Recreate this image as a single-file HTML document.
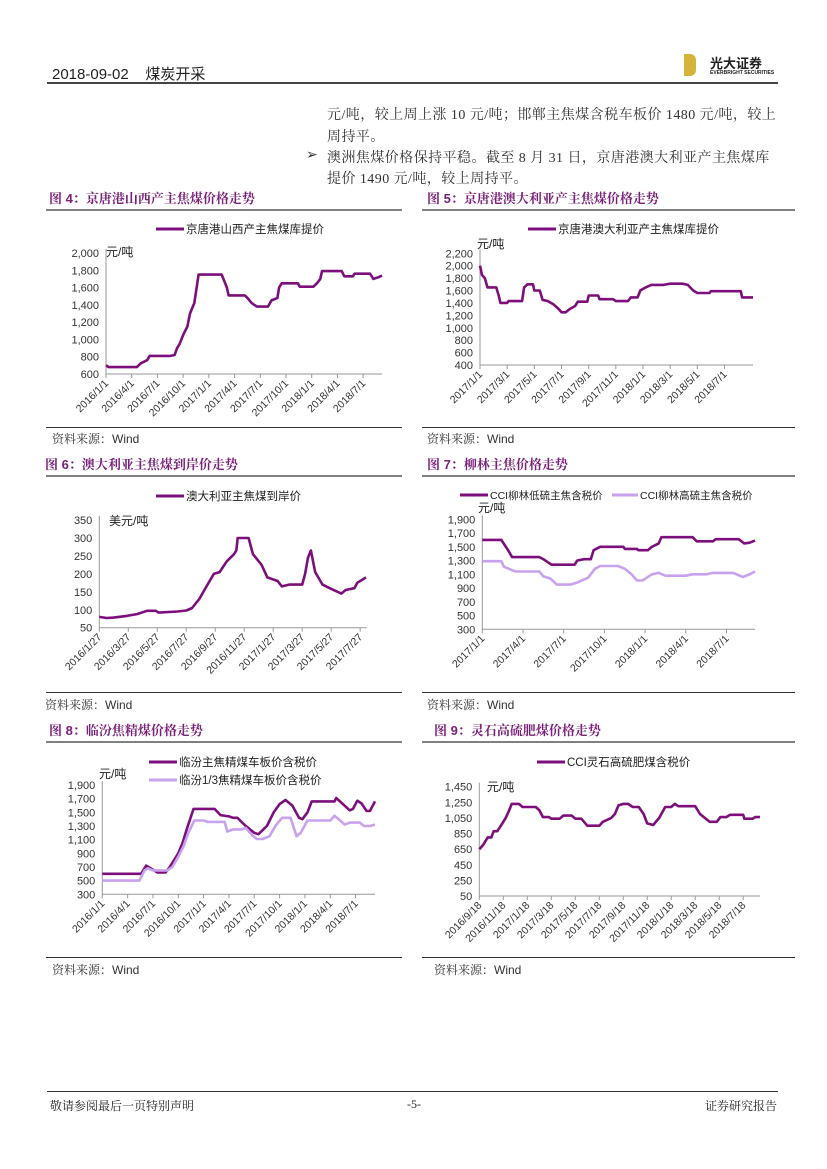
<!DOCTYPE html>
<html><head><meta charset="utf-8">
<style>
body{margin:0;background:#fff;}
#page{position:relative;width:827px;height:1169px;overflow:hidden;font-family:"Liberation Sans","Noto Sans CJK SC",sans-serif;color:#222;}
.abs{position:absolute;white-space:nowrap;}
.body{font-family:"Liberation Serif","Noto Serif CJK SC",serif;font-size:14px;color:#333;letter-spacing:0.45px;}
.ftitle{font-size:13px;font-weight:bold;color:#7a1f7a;font-family:"Liberation Sans","Noto Serif CJK SC",serif;}
.src{font-size:12px;color:#333;font-family:"Liberation Sans","Noto Serif CJK SC",sans-serif;}
.hr{position:absolute;height:1px;background:#333;}
.gr{position:absolute;height:2px;background:#808080;}
</style></head>
<body>
<div id="page">
<div class="abs" style="left:52px;top:63px;font-size:15px;color:#222;">2018-09-02&nbsp;&nbsp;&nbsp;&nbsp;煤炭开采</div>
<div class="abs" style="left:684px;top:54px;">
  <div style="position:absolute;left:0;top:0;width:12px;height:22px;background:#d6b43a;border-radius:0 6px 6px 0;"></div>
  <div class="abs" style="left:26px;top:-1px;font-size:13px;font-weight:bold;color:#222;">光大证券</div>
  <div class="abs" style="left:26px;top:16px;font-size:5px;font-weight:bold;color:#222;">EVERBRIGHT SECURITIES</div>
</div>
<div class="hr" style="left:47px;top:82px;width:731px;height:2px;background:#444;"></div>

<div class="abs body" style="left:327px;top:104px;">元/吨，较上周上涨 10 元/吨；邯郸主焦煤含税车板价 1480 元/吨，较上</div>
<div class="abs body" style="left:327px;top:126px;">周持平。</div>
<div class="abs body" style="left:306px;top:147px;">➢</div>
<div class="abs body" style="left:327px;top:147px;">澳洲焦煤价格保持平稳。截至 8 月 31 日，京唐港澳大利亚产主焦煤库</div>
<div class="abs body" style="left:327px;top:168px;">提价 1490 元/吨，较上周持平。</div>

<div class="abs ftitle" style="left:49px;top:188px;">图 4：京唐港山西产主焦煤价格走势</div>
<div class="abs ftitle" style="left:427px;top:188px;">图 5：京唐港澳大利亚产主焦煤价格走势</div>
<div class="gr" style="left:46px;top:209px;width:356px;"></div>
<div class="gr" style="left:422px;top:209px;width:373px;"></div>
<div class="hr" style="left:46px;top:427px;width:356px;"></div>
<div class="hr" style="left:422px;top:427px;width:373px;"></div>
<div class="abs src" style="left:52px;top:430px;">资料来源：Wind</div>
<div class="abs src" style="left:427px;top:430px;">资料来源：Wind</div>

<div class="abs ftitle" style="left:45px;top:454px;">图 6：澳大利亚主焦煤到岸价走势</div>
<div class="abs ftitle" style="left:427px;top:454px;">图 7：柳林主焦价格走势</div>
<div class="gr" style="left:46px;top:475px;width:356px;"></div>
<div class="gr" style="left:422px;top:475px;width:373px;"></div>
<div class="hr" style="left:46px;top:692px;width:356px;"></div>
<div class="hr" style="left:422px;top:692px;width:373px;"></div>
<div class="abs src" style="left:45px;top:696px;">资料来源：Wind</div>
<div class="abs src" style="left:427px;top:696px;">资料来源：Wind</div>

<div class="abs ftitle" style="left:49px;top:720px;">图 8：临汾焦精煤价格走势</div>
<div class="abs ftitle" style="left:434px;top:720px;">图 9：灵石高硫肥煤价格走势</div>
<div class="gr" style="left:46px;top:741px;width:356px;"></div>
<div class="gr" style="left:422px;top:741px;width:373px;"></div>
<div class="hr" style="left:46px;top:957px;width:356px;"></div>
<div class="hr" style="left:422px;top:957px;width:373px;"></div>
<div class="abs src" style="left:52px;top:961px;">资料来源：Wind</div>
<div class="abs src" style="left:434px;top:961px;">资料来源：Wind</div>

<div class="hr" style="left:47px;top:1091px;width:731px;"></div>
<div class="abs" style="left:50px;top:1097px;font-size:12px;font-family:'Liberation Serif','Noto Serif CJK SC',serif;">敬请参阅最后一页特别声明</div>
<div class="abs" style="left:407px;top:1097px;font-size:12px;font-family:'Liberation Serif',serif;">-5-</div>
<div class="abs" style="left:705px;top:1097px;font-size:12px;font-family:'Liberation Serif','Noto Serif CJK SC',serif;">证券研究报告</div>

<svg id="charts" width="827" height="1169" style="position:absolute;left:0;top:0;"></svg>
</div>
<script>
// ---- Fig 4 data (months since 2016/1/1) ----
const f4Labels = ["2016/1/1","2016/4/1","2016/7/1","2016/10/1","2017/1/1","2017/4/1","2017/7/1","2017/10/1","2018/1/1","2018/4/1","2018/7/1"];
const f4Ticks = [0,3,6,9,12,15,18,21,24,27,30];
const f4YTicks = [600,800,1000,1200,1400,1600,1800,2000];
const f4X = [0,0.3,3.6,4,4.8,5.1,7.5,8,8.3,8.6,9,9.5,9.8,10.3,10.6,10.8,13.5,14.1,14.3,16.2,16.5,17,17.6,18.9,19.3,20,20.2,20.5,22.4,22.6,24.2,24.6,25,25.2,27.5,27.8,28.8,29,30.8,31.2,31.8,32.2];
const f4Y = [700,680,680,720,760,810,810,820,900,950,1050,1150,1300,1420,1620,1750,1750,1600,1510,1510,1480,1420,1380,1380,1450,1480,1600,1650,1650,1610,1610,1650,1700,1790,1790,1730,1730,1760,1760,1700,1720,1740];
// ---- Fig 5 data (months since 2017/1/1) ----
const f5Labels = ["2017/1/1","2017/3/1","2017/5/1","2017/7/1","2017/9/1","2017/11/1","2018/1/1","2018/3/1","2018/5/1","2018/7/1"];
const f5Ticks = [0,2,4,6,8,10,12,14,16,18];
const f5YTicks = [400,600,800,1000,1200,1400,1600,1800,2000,2200];
const f5X = [0,0.15,0.35,0.55,1.2,1.4,1.5,2.0,2.1,3.1,3.25,3.5,3.9,4.0,4.4,4.6,5.0,5.4,5.8,6.0,6.3,6.6,7.0,7.2,7.9,8.0,8.7,8.8,9.8,10.0,10.9,11.1,11.6,11.8,12.2,12.6,13.5,14.0,14.9,15.3,15.7,16.0,16.9,17.0,19.2,19.3,20.1];
const f5Y = [2000,1850,1800,1650,1650,1500,1400,1400,1430,1430,1650,1700,1700,1600,1600,1450,1430,1380,1300,1250,1250,1300,1350,1420,1420,1520,1520,1460,1460,1430,1430,1490,1490,1600,1650,1690,1690,1710,1710,1690,1600,1560,1560,1590,1590,1490,1490];
// ---- Fig 6 data (months since 2016/1/27) ----
const f6Labels = ["2016/1/27","2016/3/27","2016/5/27","2016/7/27","2016/9/27","2016/11/27","2017/1/27","2017/3/27","2017/5/27","2017/7/27"];
const f6Ticks = [0,2,4,6,8,10,12,14,16,18];
const f6YTicks = [50,100,150,200,250,300,350];
const f6X = [0,0.5,1.0,1.9,2.6,3.3,3.9,4.1,5.4,6.0,6.4,6.9,7.4,7.9,8.3,8.8,9.3,9.45,9.55,10.3,10.6,11.2,11.6,12.3,12.6,13.1,14.0,14.2,14.4,14.6,14.9,15.4,15.9,16.7,17.0,17.6,17.8,18.4];
const f6Y = [80,77,78,83,88,97,97,92,95,98,105,130,165,200,205,235,255,265,300,300,255,225,190,180,165,170,170,200,245,265,205,170,160,145,155,160,175,190];
// ---- Fig 7 data (months since 2017/1/1) ----
const f7Labels = ["2017/1/1","2017/4/1","2017/7/1","2017/10/1","2018/1/1","2018/4/1","2018/7/1"];
const f7Ticks = [0,3,6,9,12,15,18];
const f7YTicks = [300,500,700,900,1100,1300,1500,1700,1900];
const f7aX = [0,1.4,1.6,1.9,2.2,4.2,4.5,4.8,5.1,6.8,7.0,7.5,8.0,8.2,8.7,10.4,10.5,11.4,11.5,12.2,12.5,13.0,13.2,15.5,15.8,17.0,17.2,18.9,19.3,19.7,20.1];
const f7aY = [1600,1600,1540,1450,1350,1350,1320,1280,1240,1240,1300,1320,1320,1450,1500,1500,1470,1470,1450,1450,1500,1550,1640,1640,1580,1580,1610,1610,1550,1560,1590];
const f7bX = [0,1.4,1.6,2.2,2.5,4.2,4.5,5.0,5.5,6.5,7.0,7.8,8.3,8.7,10.0,10.5,11.0,11.4,11.8,12.5,13.0,13.5,15.0,15.5,16.5,17.0,18.5,19.2,19.7,20.1];
const f7bY = [1290,1290,1210,1160,1140,1140,1070,1040,950,950,980,1050,1180,1220,1220,1180,1100,1010,1010,1100,1120,1080,1080,1100,1100,1120,1120,1060,1100,1140];
// ---- Fig 8 data (months since 2016/1/1) ----
const f8Labels = ["2016/1/1","2016/4/1","2016/7/1","2016/10/1","2017/1/1","2017/4/1","2017/7/1","2017/10/1","2018/1/1","2018/4/1","2018/7/1"];
const f8Ticks = [0,3,6,9,12,15,18,21,24,27,30];
const f8YTicks = [300,500,700,900,1100,1300,1500,1700,1900];
const f8aX = [0,4.6,5.2,6.0,6.5,7.5,8.0,8.5,9.0,9.5,10.0,10.4,10.8,13.3,14.0,15.0,15.5,16.0,17.0,18.0,18.5,19.5,20.3,21.0,21.7,22.5,23.3,23.7,24.3,24.8,27.5,27.7,28.5,29.3,29.7,30.2,30.7,31.3,31.7,32.3];
const f8aY = [600,600,720,660,620,620,700,800,900,1050,1250,1400,1550,1550,1460,1440,1420,1420,1300,1200,1180,1300,1500,1620,1680,1600,1420,1400,1500,1660,1660,1710,1620,1530,1550,1670,1630,1520,1520,1660];
const f8bX = [0,4.4,5.0,5.4,6.0,7.7,8.3,9.0,9.6,10.2,10.9,12.0,12.5,14.5,14.8,15.5,16.5,17.0,17.8,18.3,19.0,19.8,20.5,21.3,22.3,23.0,23.5,24.3,27.0,27.5,28.0,28.7,29.3,30.5,31.0,31.7,32.3];
const f8bY = [500,500,650,680,650,650,700,850,1000,1200,1380,1380,1360,1360,1220,1250,1250,1270,1160,1110,1110,1150,1300,1420,1420,1150,1200,1380,1380,1450,1400,1320,1350,1350,1300,1300,1320];
// ---- Fig 9 data (months since 2016/9/18) ----
const f9Labels = ["2016/9/18","2016/11/18","2017/1/18","2017/3/18","2017/5/18","2017/7/18","2017/9/18","2017/11/18","2018/1/18","2018/3/18","2018/5/18","2018/7/18"];
const f9Ticks = [0,2,4,6,8,10,12,14,16,18,20,22];
const f9YTicks = [50,250,450,650,850,1050,1250,1450];
const f9X = [0,0.3,0.7,1.0,1.2,1.5,1.8,2.2,2.5,2.7,3.3,3.6,4.7,5.0,5.3,5.8,6.0,6.7,7.0,7.7,8.0,8.5,9.0,10.0,10.3,11.0,11.3,11.6,12.0,12.4,12.8,13.3,13.7,14.0,14.5,15.0,15.5,16.0,16.3,16.6,18.0,18.4,18.8,19.2,19.8,20.1,20.6,20.9,22.0,22.1,22.8,23.0,23.4];
const f9Y = [650,700,800,800,880,880,950,1050,1150,1230,1230,1190,1190,1150,1060,1060,1040,1040,1080,1080,1040,1040,950,950,1000,1050,1100,1210,1230,1230,1190,1190,1100,980,960,1050,1190,1190,1230,1200,1200,1100,1050,1000,1000,1060,1060,1090,1090,1040,1040,1060,1060];

const NS = "http://www.w3.org/2000/svg";
const svg = document.getElementById('charts');
const DARK = "#7c0f7c", LIGHT = "#c9a2ef";
function mk(tag, attrs, parent){ const e=document.createElementNS(NS,tag); for(const k in attrs) e.setAttribute(k,attrs[k]); (parent||svg).appendChild(e); return e; }

function drawChart(id, c, ticks, labels, yTicks, series, legends){
  const g = mk('g',{});
  
  
  const xs = m => c.x0 + (m - 0) * (c.x1 - c.x0) / c.xMax;
  const ys = v => c.yb - (v - c.yMin) * (c.yb - c.yt) / (c.yMax - c.yMin);
  const ax = mk('path',{d:`M${c.x0},${c.yt-4} V${c.yb} H${c.x1}`,stroke:'#999','stroke-width':1,fill:'none'},g);
  
  
  yTicks.forEach(v=>{
    const t = mk('text',{x:c.x0-7,y:ys(v)+4,'text-anchor':'end','font-size':11,fill:'#333','font-family':'Liberation Sans, sans-serif'},g);
    t.textContent = v>=1000 ? v.toLocaleString('en-US') : String(v);
    
    
  });
  ticks.forEach((m,i)=>{
    const x = xs(m);
    const tk = mk('line',{x1:x,x2:x,y1:c.yb,y2:c.yb+4,stroke:'#999'},g);
    
    
    const t = mk('text',{x:x+3,y:c.yb+10,'text-anchor':'end','font-size':10.5,fill:'#333','font-family':'Liberation Sans, sans-serif',transform:`rotate(-45 ${x+3} ${c.yb+10})`},g);
    t.textContent = labels[i];
    
    
  });
  const u = mk('text',{x:c.ux,y:c.uy,'font-size':12,fill:'#222','font-family':'Liberation Sans, Noto Sans CJK SC, sans-serif'},g);
  u.textContent = c.unit;
  
  
  series.forEach((s,si)=>{
    const d = s.x.map((m,i)=>(i?'L':'M')+xs(m).toFixed(1)+','+ys(s.y[i]).toFixed(1)).join(' ');
    const p = mk('path',{d:d,stroke:s.color,'stroke-width':2.6,fill:'none','stroke-linejoin':'round'},g);
    
    
  });
  legends.forEach((L,li)=>{
    const w = L.w || 28;
    const l = mk('line',{x1:L.x,x2:L.x+w,y1:L.y,y2:L.y,stroke:L.color,'stroke-width':3},g);
    
    
    const t = mk('text',{x:L.x+w+2,y:L.y+4,'font-size':L.fs||11.5,fill:'#222','font-family':'Liberation Sans, Noto Sans CJK SC, sans-serif'},g);
    t.textContent = L.text;
    
    
  });
}

drawChart('fig4',{x0:106,x1:382,xMax:32.2,yt:253,yb:374,yMin:600,yMax:2000,unit:'元/吨',ux:106,uy:256},
  f4Ticks,f4Labels,f4YTicks,[{x:f4X,y:f4Y,color:DARK}],[{x:156,y:229,color:DARK,text:'京唐港山西产主焦煤库提价'}]);
drawChart('fig5',{x0:480,x1:753,xMax:20.1,yt:253.3,yb:365,yMin:400,yMax:2200,unit:'元/吨',ux:477,uy:248},
  f5Ticks,f5Labels,f5YTicks,[{x:f5X,y:f5Y,color:DARK}],[{x:528,y:229,color:DARK,text:'京唐港澳大利亚产主焦煤库提价'}]);
drawChart('fig6',{x0:99.3,x1:366.7,xMax:18.45,yt:520,yb:627.7,yMin:50,yMax:350,unit:'美元/吨',ux:109,uy:525},
  f6Ticks,f6Labels,f6YTicks,[{x:f6X,y:f6Y,color:DARK}],[{x:156,y:496,color:DARK,text:'澳大利亚主焦煤到岸价'}]);
drawChart('fig7',{x0:482.3,x1:755,xMax:20.1,yt:519.3,yb:629.3,yMin:300,yMax:1900,unit:'元/吨',ux:478,uy:512},
  f7Ticks,f7Labels,f7YTicks,[{x:f7aX,y:f7aY,color:DARK},{x:f7bX,y:f7bY,color:LIGHT}],
  [{x:460,y:495,w:28,fs:10.5,color:DARK,text:'CCI柳林低硫主焦含税价'},{x:612,y:495,w:26,fs:10.5,color:LIGHT,text:'CCI柳林高硫主焦含税价'}]);
drawChart('fig8',{x0:102.3,x1:375,xMax:32.3,yt:785,yb:894.3,yMin:300,yMax:1900,unit:'元/吨',ux:99,uy:778},
  f8Ticks,f8Labels,f8YTicks,[{x:f8aX,y:f8aY,color:DARK},{x:f8bX,y:f8bY,color:LIGHT}],
  [{x:149,y:762,color:DARK,text:'临汾主焦精煤车板价含税价'},{x:149,y:780,color:LIGHT,text:'临汾1/3焦精煤车板价含税价'}]);
drawChart('fig9',{x0:479.3,x1:760,xMax:23.4,yt:786.7,yb:896,yMin:50,yMax:1450,unit:'元/吨',ux:487,uy:791},
  f9Ticks,f9Labels,f9YTicks,[{x:f9X,y:f9Y,color:DARK}],[{x:537,y:762,color:DARK,text:'CCI灵石高硫肥煤含税价'}]);
</script>
</body></html>
